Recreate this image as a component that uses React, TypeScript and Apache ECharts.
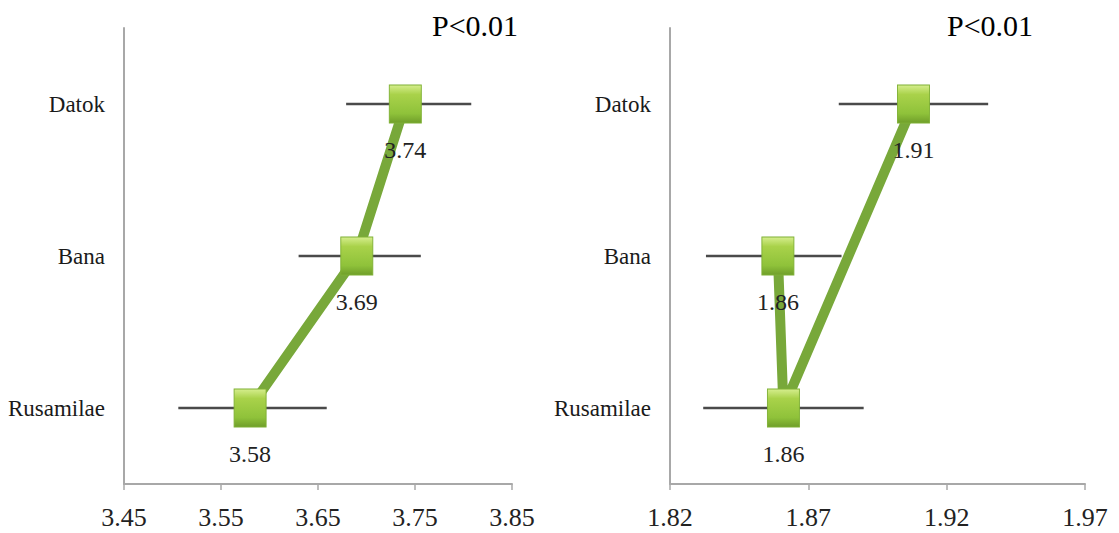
import React, { useEffect, useRef } from "react";
import * as echarts from "echarts";

// Categories, bottom to top (category axis starts at the bottom)
const categories = ["Rusamilae", "Bana", "Datok"];

// Left panel
const leftMeans = [3.58, 3.69, 3.74];
const leftLow = [3.506, 3.63, 3.679];
const leftHigh = [3.659, 3.756, 3.808];
const leftOrder = [2, 1, 0]; // Datok -> Bana -> Rusamilae
const leftTicks = { min: 3.45, max: 3.85, interval: 0.1 };

// Right panel
const rightMeans = [1.861, 1.859, 1.908];
const rightLow = [1.832, 1.833, 1.881];
const rightHigh = [1.89, 1.882, 1.935];
const rightOrder = [1, 0, 2]; // Bana -> Rusamilae -> Datok
const rightTicks = { min: 1.82, max: 1.97, interval: 0.05 };

const pLabel = "P<0.01";

const FONT = "Liberation Serif";

export default function App() {
  const ref = useRef<HTMLDivElement>(null);

  useEffect(() => {
    document.body.style.margin = "0";
    const chart = echarts.init(ref.current!, null, { renderer: "svg" });

    const markerColor = new echarts.graphic.LinearGradient(0, 0, 0, 1, [
      { offset: 0, color: "#d6ee8e" },
      { offset: 0.25, color: "#a9d24a" },
      { offset: 0.75, color: "#8fc23a" },
      { offset: 1, color: "#6f9e2a" },
    ]);

    const xAxisBase = (t: { min: number; max: number; interval: number }, gi: number) => ({
      type: "value",
      gridIndex: gi,
      min: t.min,
      max: t.max,
      interval: t.interval,
      splitLine: { show: false },
      axisLine: { show: true, lineStyle: { color: "#a8a8a8", width: 2 } },
      axisTick: { show: true, length: 6, lineStyle: { color: "#a8a8a8", width: 1.5 } },
      axisLabel: {
        margin: 20,
        formatter: (v: number) => "{t|" + v.toFixed(2) + "}",
        rich: {
          t: { fontFamily: FONT, fontSize: 26, color: "#222" },
        },
      },
    });

    const yAxisBase = (gi: number) => ({
      type: "category",
      gridIndex: gi,
      data: categories,
      boundaryGap: true,
      axisLine: { show: true, lineStyle: { color: "#a8a8a8", width: 2 } },
      axisTick: { show: false },
      splitLine: { show: false },
      axisLabel: {
        margin: 19,
        textStyle: { fontFamily: "serif", fontSize: 23, color: "#1a1a1a" },
        fontFamily: "serif",
        fontSize: 23,
        color: "#1a1a1a",
      },
    });

    const errSeries = (low: number[], high: number[], gi: number) => ({
      type: "custom",
      xAxisIndex: gi,
      yAxisIndex: gi,
      z: 1,
      encode: { x: [0, 1], y: 2 },
      data: categories.map((_, i) => [low[i], high[i], i]),
      renderItem: (params: any, api: any) => {
        const a = api.coord([api.value(0), api.value(2)]);
        const b = api.coord([api.value(1), api.value(2)]);
        return {
          type: "line",
          shape: { x1: a[0], y1: a[1], x2: b[0], y2: b[1] },
          style: { stroke: "#4a4a4a", lineWidth: 2.5 },
        };
      },
    });

    const lineSeries = (means: number[], order: number[], gi: number) => ({
      type: "line",
      xAxisIndex: gi,
      yAxisIndex: gi,
      z: 3,
      data: order.map((i) => [means[i], i]),
      lineStyle: { color: "#78a83a", width: 10 },
      symbol: "rect",
      symbolSize: [32, 38],
      itemStyle: { color: markerColor, borderColor: "#7fb034", borderWidth: 1 },
      label: {
        show: true,
        position: "bottom",
        distance: 14,
        fontFamily: FONT,
        fontSize: 24,
        color: "#222",
        formatter: (p: any) => Number(p.value[0]).toFixed(2),
      },
    });

    chart.setOption({
      animation: false,
      backgroundColor: "#ffffff",
      textStyle: { fontFamily: FONT },
      grid: [
        { left: 124, width: 388, top: 28, height: 456 },
        { left: 670, width: 415, top: 28, height: 456 },
      ],
      xAxis: [xAxisBase(leftTicks, 0), xAxisBase(rightTicks, 1)],
      yAxis: [yAxisBase(0), yAxisBase(1)],
      series: [
        errSeries(leftLow, leftHigh, 0),
        lineSeries(leftMeans, leftOrder, 0),
        errSeries(rightLow, rightHigh, 1),
        lineSeries(rightMeans, rightOrder, 1),
      ],
      graphic: [
        {
          type: "text",
          left: 432,
          top: 10,
          style: { text: pLabel, font: `30px ${FONT}`, fill: "#000" },
        },
        {
          type: "text",
          left: 947,
          top: 10,
          style: { text: pLabel, font: `30px ${FONT}`, fill: "#000" },
        },
      ],
    });

    return () => chart.dispose();
  }, []);

  return <div ref={ref} style={{ width: 1119, height: 533 }} />;
}
